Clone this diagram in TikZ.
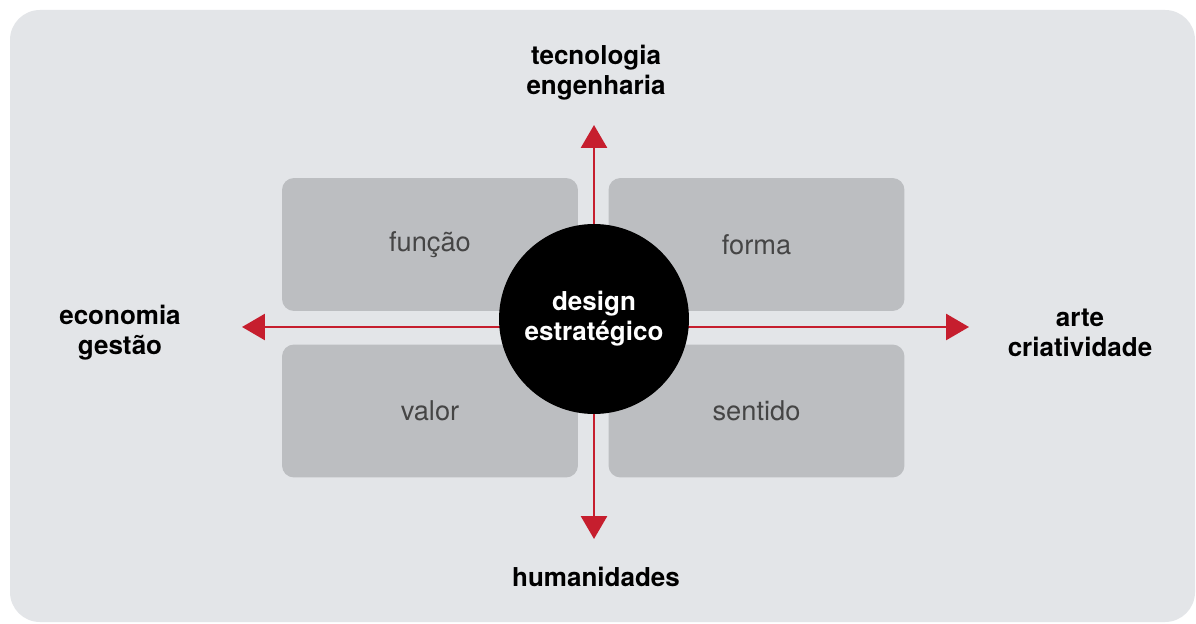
\documentclass[tikz,border=0pt]{standalone}
\usepackage{fontspec}
\setmainfont{TeX Gyre Heros}
\usepackage{xcolor}
\usepackage{tikz}
\usetikzlibrary{arrows.meta,positioning,backgrounds}

\definecolor{panelgray}{HTML}{E3E5E8}
\definecolor{boxgray}{HTML}{BCBEC1}
\definecolor{axisred}{HTML}{C61E2E}
\definecolor{labelgray}{HTML}{454545}

\begin{document}
\begin{tikzpicture}[
    x=0.02cm, y=-0.02cm,
    quadrant/.style={
        % the grey boxes
        rounded corners=0.24cm,
        fill=boxgray,
        minimum width=5.92cm,
        minimum height=2.66cm,
        text=labelgray,
        font=\fontsize{15.5}{18}\selectfont},
    axislabel/.style={
        align=center,
        font=\fontsize{14.8}{17}\selectfont\bfseries},
    axis/.style={
        draw=axisred,
        line width=1.6pt,
        -{Triangle[length=0.46cm,width=0.52cm]}}]%四个方向的箭头
  \useasboundingbox (0,0) rectangle (1196,624);
  \fill[white] (0,0) rectangle (1196,624);
  \fill[panelgray,rounded corners=0.6cm] (10,10) rectangle (1195,622);
  % quadrants
  \node (funcao) [quadrant] at (430,244.5) {função};
  \node (forma) [quadrant] at (756.5,244.5) {forma};
  \node (valor) [quadrant] at (430,411) {valor};
  \node (sentido) [quadrant] at (756.5,411) {sentido};
  % axes
  \coordinate (hub) at (594,327);
  \coordinate (top) at (594,125);
  \coordinate (bottom) at (594,539);
  \coordinate (left) at (242,327);
  \coordinate (right) at (969,327);
  \draw[axis] (hub) -- (top);
  \draw[axis] (hub) -- (bottom);
  \draw[axis] (hub) -- (left);
  \draw[axis] (hub) -- (right);
  % centre
  \node (design) [circle,fill=black,minimum size=3.8cm,inner sep=0pt,
      text=white,axislabel] at (594,319) {design\\estratégico};
  % axis labels
  \node (tecno) [axislabel] at (596,73) {tecnologia\\engenharia};
  \node (econ) [axislabel] at (120,333) {economia\\gestão};
  \node (arte) [axislabel] at (1080,333) {arte\\criatividade};
  \node (human) [axislabel] at (596,577) {humanidades};
\end{tikzpicture}
\end{document}
